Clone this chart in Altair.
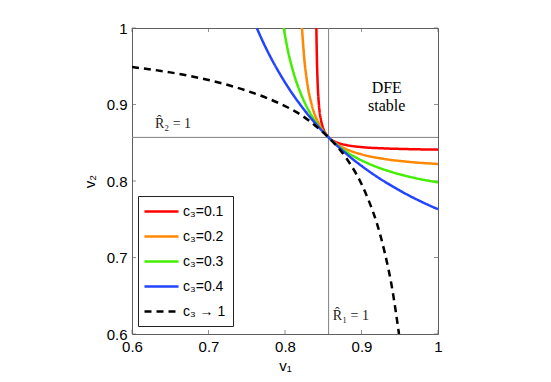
import altair as alt
import pandas as pd

P = 0.857
labels = ["c₃=0.1", "c₃=0.2", "c₃=0.3", "c₃=0.4", "c₃ → 1"]
colors = ["#ff0000", "#ff8800", "#44ee00", "#2244ff", "#000000"]
dashes = [[1, 0], [1, 0], [1, 0], [1, 0], [7, 5]]

x_ticks = [0.6, 0.7, 0.8, 0.9, 1.0]
y_ticks = [0.6, 0.7, 0.8, 0.9, 1.0]

red_v1 = [0.841, 0.8417, 0.8426, 0.8443, 0.847, 0.8495, 0.8525, 0.8544, 0.857,
          0.860, 0.863, 0.870, 0.880, 0.900, 0.930, 0.960, 1.0]
red_v2 = [1.0, 0.96, 0.93, 0.90, 0.88, 0.87, 0.863, 0.860, 0.857,
          0.8544, 0.8525, 0.8495, 0.847, 0.8443, 0.8426, 0.8417, 0.841]

orange_v1 = [0.8222, 0.8252, 0.8288, 0.8348, 0.8417, 0.8469, 0.8525, 0.857,
             0.862, 0.870, 0.880, 0.900, 0.930, 0.960, 1.0]
orange_v2 = [1.0, 0.96, 0.93, 0.90, 0.88, 0.87, 0.862, 0.857,
             0.8525, 0.8469, 0.8417, 0.8348, 0.8288, 0.8252, 0.8222]

green_v1 = [0.7982, 0.8039, 0.8116, 0.8224, 0.8322, 0.8417, 0.8496, 0.857,
            0.865, 0.875, 0.89, 0.91, 0.94, 0.97, 1.0]
green_v2 = [1.0, 0.97, 0.94, 0.91, 0.89, 0.875, 0.865, 0.857,
            0.8496, 0.8417, 0.8322, 0.8224, 0.8116, 0.8039, 0.7982]

blue_v1 = [0.7631, 0.7721, 0.7821, 0.7933, 0.8057, 0.8198, 0.8315, 0.8445, 0.857,
           0.87, 0.885, 0.90, 0.92, 0.94, 0.96, 0.98, 1.0]
blue_v2 = [1.0, 0.98, 0.96, 0.94, 0.92, 0.90, 0.885, 0.87, 0.857,
           0.8445, 0.8315, 0.8198, 0.8057, 0.7933, 0.7821, 0.7721, 0.7631]

limit_v1 = [0.60, 0.65, 0.70, 0.75, 0.78, 0.80, 0.82, 0.84, 0.857,
            0.87, 0.88, 0.90, 0.91, 0.92, 0.93, 0.94, 0.949]
limit_v2 = [0.949, 0.942, 0.932, 0.918, 0.907, 0.898, 0.887, 0.872, 0.857,
            0.843, 0.830, 0.796, 0.773, 0.745, 0.708, 0.660, 0.600]

all_v1 = [red_v1, orange_v1, green_v1, blue_v1, limit_v1]
all_v2 = [red_v2, orange_v2, green_v2, blue_v2, limit_v2]

rows = []
for lab, xs, ys in zip(labels, all_v1, all_v2):
    for i, (a, b) in enumerate(zip(xs, ys)):
        rows.append({"series": lab, "v1": a, "v2": b, "i": i})
df = pd.DataFrame(rows)

GRAY = "#808080"
FRAME = "#606060"
SANS = "Liberation Sans"
SERIF = "Liberation Serif"

xscale = alt.Scale(domain=[0.6, 1.0], nice=False, zero=False)
yscale = alt.Scale(domain=[0.6, 1.0], nice=False, zero=False)

label_expr = "datum.value == 1 ? '1' : format(datum.value, '.1f')"

xaxis = alt.Axis(values=x_ticks, title="v₁", labelExpr=label_expr, tickSize=0,
                 labelPadding=5, titlePadding=4, domain=False, grid=False,
                 labelFlush=False, labelOverlap=False)
yaxis = alt.Axis(values=y_ticks, title="v₂", labelExpr=label_expr, tickSize=0,
                 labelPadding=5, titlePadding=9, domain=False, grid=False,
                 labelFlush=False, labelOverlap=False)

legend = alt.Legend(
    title=None, orient="none", legendX=6, legendY=168,
    symbolType="M-2.43,0H2.43", symbolSize=196, symbolStrokeWidth=2.5,
    symbolOffset=8,
    labelFont=SANS, labelFontSize=14, labelColor="black", labelOffset=13,
    rowPadding=9, padding=7, strokeColor="#222222", fillColor="white",
    cornerRadius=0,
)

lines = alt.Chart(df).mark_line(strokeWidth=2.5, interpolate="monotone", clip=True,
                                 strokeCap="butt").encode(
    x=alt.X("v1:Q", scale=xscale, axis=xaxis),
    y=alt.Y("v2:Q", scale=yscale, axis=yaxis),
    color=alt.Color("series:N", scale=alt.Scale(domain=labels, range=colors), legend=legend),
    strokeDash=alt.StrokeDash("series:N", scale=alt.Scale(domain=labels, range=dashes), legend=legend),
    order="i:Q",
)

ref_df = pd.DataFrame({"p": [P]})
vrule = alt.Chart(ref_df).mark_rule(color=GRAY, strokeWidth=1).encode(x=alt.X("p:Q", scale=xscale))
hrule = alt.Chart(ref_df).mark_rule(color=GRAY, strokeWidth=1).encode(y=alt.Y("p:Q", scale=yscale))

# inward ticks on all four sides
xt = pd.DataFrame({"t": x_ticks})
yt = pd.DataFrame({"t": y_ticks})
tick_bottom = alt.Chart(xt).mark_tick(orient="vertical", size=4, thickness=1, color=FRAME, yOffset=-2).encode(
    x=alt.X("t:Q", scale=xscale), y=alt.datum(0.6))
tick_top = alt.Chart(xt).mark_tick(orient="vertical", size=4, thickness=1, color=FRAME, yOffset=2).encode(
    x=alt.X("t:Q", scale=xscale), y=alt.datum(1.0))
tick_left = alt.Chart(yt).mark_tick(orient="horizontal", size=4, thickness=1, color=FRAME, xOffset=2).encode(
    y=alt.Y("t:Q", scale=yscale), x=alt.datum(0.6))
tick_right = alt.Chart(yt).mark_tick(orient="horizontal", size=4, thickness=1, color=FRAME, xOffset=-2).encode(
    y=alt.Y("t:Q", scale=yscale), x=alt.datum(1.0))

ann_df = pd.DataFrame({
    "v1": [0.933, 0.630, 0.8625],
    "v2": [0.922, 0.869, 0.618],
    "txt": ["DFE\nstable", "R̂₂ = 1", "R̂₁ = 1"],
})
dfe = alt.Chart(ann_df.iloc[[0]]).mark_text(font=SERIF, fontSize=16, align="center", baseline="middle",
                                             lineBreak="\n", lineHeight=18, color="black").encode(
    x="v1:Q", y="v2:Q", text="txt:N")
rlab = alt.Chart(ann_df.iloc[[1, 2]]).mark_text(font=SERIF, fontSize=14, align="left", baseline="alphabetic",
                                                 color="#222222").encode(
    x="v1:Q", y="v2:Q", text="txt:N")

chart = alt.layer(vrule, hrule, tick_bottom, tick_top, tick_left, tick_right, lines, dfe, rlab).properties(
    width=306, height=306,
    background="white",
    padding={"left": 124, "top": 20, "right": 105, "bottom": 40},
    autosize=alt.AutoSizeParams(type="none"),
).configure_view(stroke=FRAME, strokeWidth=1).configure_axis(
    labelFont=SANS, labelFontSize=15, labelColor="black",
    titleFont=SANS, titleFontSize=15, titleFontWeight="normal", titleColor="black",
)

chart.save("out.html", embed_options={"renderer": "svg", "actions": False})
